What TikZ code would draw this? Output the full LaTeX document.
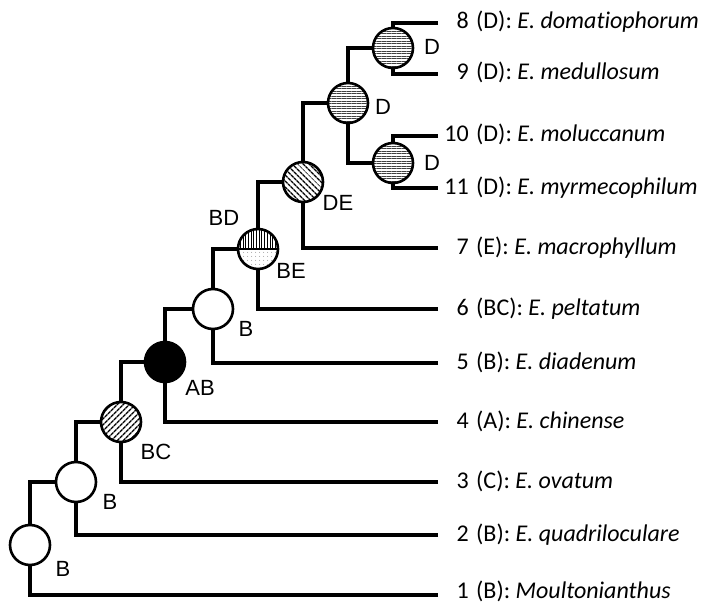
\documentclass[tikz,border=0pt]{standalone}
\usepackage{fontspec}
\setmainfont{Carlito}[Ligatures=NoCommon]
\newfontfamily\statefont{Liberation Sans}
\usetikzlibrary{patterns.meta}

\begin{document}
\begin{tikzpicture}[x=1pt,y=-1pt,
  branch/.style={line width=3.1pt},
  anc/.style={circle, draw, line width=2.6pt, minimum size=40pt, inner sep=0pt, fill=white},
  ancblack/.style={anc, fill=black},
  ancne/.style={anc, preaction={fill=white}, pattern={Lines[angle=45,distance=4pt,line width=1.4pt]}},
  ancnw/.style={anc, preaction={fill=white}, pattern={Lines[angle=-45,distance=4pt,line width=1.4pt]}},
  anch/.style={anc, preaction={fill=white}, pattern={Lines[angle=0,distance=2.5pt,line width=1pt]}, pattern color=black!75},
  statelbl/.style={font=\statefont\fontsize{22}{22}\selectfont, inner sep=0pt},
  tipnum/.style={anchor=base east, inner sep=0pt, font=\fontsize{24}{24}\selectfont},
  tipname/.style={anchor=base west, inner sep=0pt, font=\fontsize{24}{24}\selectfont}]

\useasboundingbox (0,0) rectangle (706,604);

% ancestral node positions
\coordinate (c1) at (30,545);
\coordinate (c2) at (76,482);
\coordinate (c3) at (121,422);
\coordinate (c4) at (165,362);
\coordinate (c5) at (213,309);
\coordinate (c6) at (258,249);
\coordinate (c7) at (303,182);
\coordinate (c8) at (348,103);
\coordinate (c9) at (393,48);
\coordinate (c10) at (393,163);

% right ends of the terminal branches
\coordinate (e1) at (438,595);
\coordinate (e2) at (438,535);
\coordinate (e3) at (438,482);
\coordinate (e4) at (438,422);
\coordinate (e5) at (438,363);
\coordinate (e6) at (438,309);
\coordinate (e7) at (438,248);
\coordinate (e8) at (438,23);
\coordinate (e9) at (438,74);
\coordinate (e10) at (438,136);
\coordinate (e11) at (438,188);

% branches
\draw[branch] (e1) -| (c1) |- (c2);
\draw[branch] (e2) -| (c2) |- (c3);
\draw[branch] (e3) -| (c3) |- (c4);
\draw[branch] (e4) -| (c4) |- (c5);
\draw[branch] (e5) -| (c5) |- (c6);
\draw[branch] (e6) -| (c6) |- (c7);
\draw[branch] (e7) -| (c7) |- (c8);
\draw[branch] (c9) -| (c8) |- (c10);
\draw[branch] (e8) -| (c9) |- (e9);
\draw[branch] (e10) -| (c10) |- (e11);

% reconstructed states
\node[anc] (n1) at (c1) {};
\node[anc] (n2) at (c2) {};
\node[ancne] (n3) at (c3) {};
\node[ancblack] (n4) at (c4) {};
\node[anc] (n5) at (c5) {};
\node[anc, path picture={
    \fill[pattern={Dots[distance=4pt,radius=0.45pt]}, pattern color=black!70]
      (path picture bounding box.south west) rectangle (path picture bounding box.east);
    \fill[pattern={Lines[angle=90,distance=2.7pt,line width=1pt]}]
      (path picture bounding box.west) rectangle (path picture bounding box.north east);
  }] (n6) at (c6) {};
\draw[line width=1.8pt] (n6.west) -- (n6.east);
\node[ancnw] (n7) at (c7) {};
\node[anch] (n8) at (c8) {};
\node[anch] (n9) at (c9) {};
\node[anch] (n10) at (c10) {};

% state labels
\node[statelbl] (s1) at (63,569) {B};
\node[statelbl] (s2) at (110,502) {B};
\node[statelbl] (s3) at (156,452) {BC};
\node[statelbl] (s4) at (200,388) {AB};
\node[statelbl] (s5) at (246,329) {B};
\node[statelbl] (s6a) at (224,218) {BD};
\node[statelbl] (s6b) at (291,271) {BE};
\node[statelbl] (s7) at (338,203) {DE};
\node[statelbl] (s8) at (383,107) {D};
\node[statelbl] (s9) at (432,47) {D};
\node[statelbl] (s10) at (432,163) {D};

% taxa
\foreach \tip/\num/\st/\taxon/\dy in {
    e8/8/D/{E. domatiophorum}/6,
    e9/9/D/{E. medullosum}/6,
    e10/10/D/{E. moluccanum}/6,
    e11/11/D/{E. myrmecophilum}/6,
    e7/7/E/{E. macrophyllum}/6,
    e6/6/BC/{E. peltatum}/6,
    e5/5/B/{E. diadenum}/6,
    e4/4/A/{E. chinense}/6,
    e3/3/C/{E. ovatum}/6,
    e2/2/B/{E. quadriloculare}/6,
    e1/1/B/{Moultonianthus}/3} {
  \node[tipnum] (num\num) at ([shift={(31,\dy)}]\tip) {\num};
  \node[tipname] (name\num) at ([shift={(38,\dy)}]\tip) {(\st): \textit{\taxon}};
}
\end{tikzpicture}
\end{document}
